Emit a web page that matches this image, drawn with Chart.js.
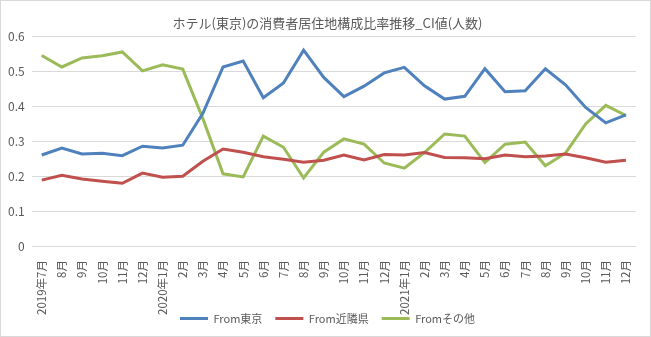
<!DOCTYPE html>
<html>
<head>
<meta charset="utf-8">
<script src="https://cdn.jsdelivr.net/npm/chart.js@4"></script>
<style>
  body { margin: 0; background: #fff; }
  #wrap { width: 649px; height: 335px; border: 1px solid #d9d9d9; }
</style>
</head>
<body>
<div id="wrap"><canvas id="grafico" width="649" height="335"></canvas></div>
<script>
// categorias (meses)
const meses = [
  '2019年7月', '8月', '9月', '10月', '11月', '12月',
  '2020年1月', '2月', '3月', '4月', '5月', '6月', '7月', '8月', '9月', '10月', '11月', '12月',
  '2021年1月', '2月', '3月', '4月', '5月', '6月', '7月', '8月', '9月', '10月', '11月', '12月'
];

// séries
const fromTokyo = [
  0.261, 0.281, 0.264, 0.266, 0.259, 0.286, 0.281, 0.289, 0.380, 0.513,
  0.530, 0.425, 0.467, 0.561, 0.483, 0.428, 0.458, 0.496, 0.512, 0.459,
  0.421, 0.429, 0.508, 0.442, 0.445, 0.508, 0.462, 0.397, 0.353, 0.376
];
const fromKinrin = [
  0.189, 0.203, 0.192, 0.186, 0.180, 0.209, 0.197, 0.200, 0.243, 0.278,
  0.269, 0.256, 0.249, 0.240, 0.246, 0.261, 0.247, 0.262, 0.261, 0.268,
  0.254, 0.253, 0.250, 0.261, 0.256, 0.258, 0.264, 0.253, 0.240, 0.246
];
const fromOther = [
  0.546, 0.513, 0.539, 0.545, 0.556, 0.502, 0.519, 0.507, 0.365, 0.207,
  0.198, 0.315, 0.283, 0.195, 0.269, 0.307, 0.292, 0.238, 0.223, 0.268,
  0.321, 0.315, 0.239, 0.292, 0.298, 0.230, 0.266, 0.350, 0.403, 0.374
];

const yTicks = [0, 0.1, 0.2, 0.3, 0.4, 0.5, 0.6];

const fonte = '"Noto Sans CJK JP", "Noto Sans", sans-serif';
const cinza = '#595959';

// legenda mais compacta (área do gráfico desce) e título/legenda centrados no canvas
const AJUSTE_Y = 21;
const AJUSTE_X = 9;
const ajusteLayout = {
  id: 'ajusteLayout',
  beforeLayout(chart) {
    const lg = chart.legend;
    if (!lg._fitOrig) {
      lg._fitOrig = lg.fit;
      lg.fit = function () {
        this._fitOrig();
        this.height -= AJUSTE_Y;
      };
    }
  },
  afterLayout(chart) {
    chart.legend.left += AJUSTE_X;
    chart.legend.right += AJUSTE_X;
    chart.legend.top -= AJUSTE_Y;
    chart.titleBlock.left += AJUSTE_X;
    chart.titleBlock.right += AJUSTE_X;
  }
};

function serie(label, data, cor) {
  return {
    label: label,
    data: data,
    borderColor: cor,
    backgroundColor: cor,
    borderWidth: 3,
    pointRadius: 0,
    pointStyle: 'line',
    tension: 0
  };
}

new Chart(document.getElementById('grafico'), {
  type: 'line',
  data: {
    labels: meses,
    datasets: [
      serie('From東京', fromTokyo, '#4F81BD'),
      serie('From近隣県', fromKinrin, '#C0504D'),
      serie('Fromその他', fromOther, '#9BBB59')
    ]
  },
  options: {
    responsive: false,
    animation: false,
    layout: { padding: { left: 0, right: 14, top: 14, bottom: 2 } },
    plugins: {
      title: {
        display: true,
        text: 'ホテル(東京)の消費者居住地構成比率推移_CI値(人数)',
        color: cinza,
        font: { family: fonte, size: 13, weight: 'normal' },
        padding: { top: 0, bottom: 6 }
      },
      legend: {
        position: 'bottom',
        labels: {
          color: cinza,
          font: { family: fonte, size: 11 },
          usePointStyle: true,
          pointStyleWidth: 28,
          boxWidth: 28,
          boxHeight: 8,
          padding: 13
        }
      },
      tooltip: { enabled: false }
    },
    scales: {
      x: {
        offset: true,
        grid: { display: false },
        border: { display: false },
        ticks: {
          color: cinza,
          font: { family: fonte, size: 11.5 },
          minRotation: 90,
          maxRotation: 90,
          autoSkip: false,
          padding: 6
        }
      },
      y: {
        min: 0,
        max: 0.6,
        afterBuildTicks: axis => { axis.ticks = yTicks.map(v => ({ value: v })); },
        grid: { color: '#d9d9d9', drawTicks: false },
        border: { display: false },
        ticks: {
          color: cinza,
          font: { family: fonte, size: 12 },
          padding: 7,
          callback: v => String(v)
        }
      }
    }
  },
  plugins: [ajusteLayout]
});
</script>
</body>
</html>
